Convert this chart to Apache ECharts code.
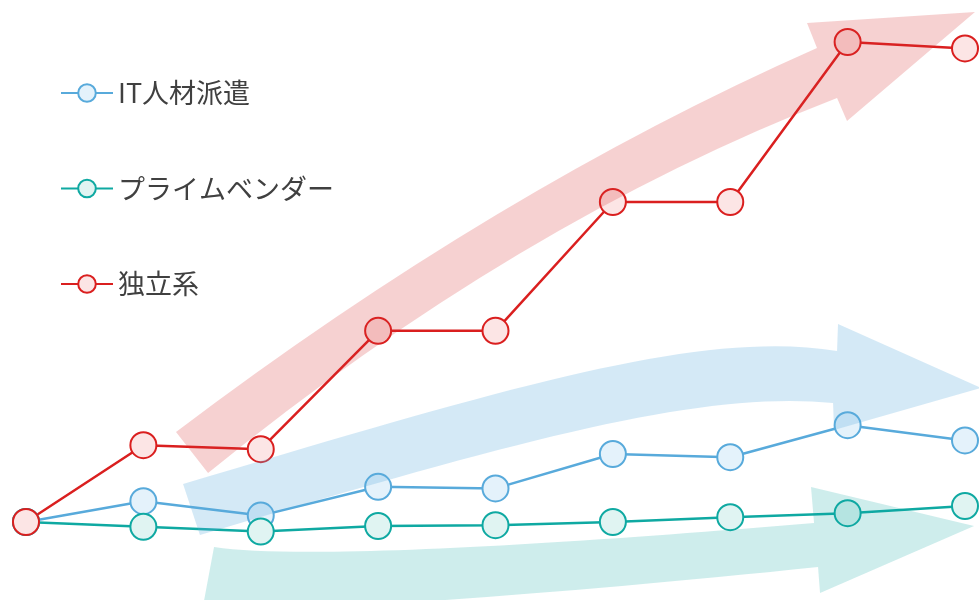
<!DOCTYPE html>
<html>
<head>
<meta charset="utf-8">
<script src="https://cdn.jsdelivr.net/npm/echarts@6/dist/echarts.min.js"></script>
<style>
  html, body { margin: 0; padding: 0; background: #ffffff; }
  #chart { width: 979px; height: 600px; }
</style>
</head>
<body>
<div id="chart"></div>
<script>
// Periods along the horizontal axis (not labelled on the chart)
const periods = ['T0', 'T1', 'T2', 'T3', 'T4', 'T5', 'T6', 'T7', 'T8'];

// Index values per segment (start = 100)
const itStaffing  = [100, 113, 104, 122, 121, 142.5, 140.5, 160.5, 151];
const primeVendor = [100, 97, 94, 97.5, 98, 100, 103, 105.5, 110];
const independent = [100, 148, 145.5, 219.5, 219.5, 300, 300, 400, 396];

const seriesNames = ['IT人材派遣', 'プライムベンダー', '独立系'];

// Translucent trend arrows laid over the lines, in axis units [period position, index value].
// top / bottom: bezier edges of the shaft (start, controls, end); head: back-top, tip, back-bottom.
const trendArrows = [
  { // 独立系
    fill: 'rgba(215,45,45,0.22)',
    top: [[1.278, 156.3], [4.0, 307.5], [6.739, 396.3]],
    head: [[6.654, 411.9], [8.085, 418.8], [6.995, 350.6]],
    bottom: [[6.910, 365.0], [4.170, 287.2], [1.551, 130.6]]
  },
  { // IT人材派遣
    fill: 'rgba(88,170,219,0.26)',
    top: [[1.338, 123.8], [4.038, 182.5], [5.742, 221.3], [6.910, 206.9]],
    head: [[6.918, 223.8], [8.136, 183.8], [6.884, 157.5]],
    bottom: [[6.876, 174.4], [5.742, 182.5], [4.209, 151.3], [1.482, 91.9]]
  },
  { // プライムベンダー
    fill: 'rgba(15,168,160,0.205)',
    top: [[1.602, 84.4], [2.334, 76.3], [4.464, 85.6], [6.714, 99.4]],
    head: [[6.688, 121.9], [8.077, 97.5], [6.765, 55.6]],
    bottom: [[6.748, 71.9], [4.464, 54.4], [2.334, 43.8], [1.499, 43.8]]
  }
];

const lineColors = ['#58AADB', '#0FA9A2', '#DA1F1F'];
const markerFills = ['#E4F2FB', '#E0F4F2', '#FCE5E5'];
const seriesValues = [itStaffing, primeVendor, independent];

function curveCmd(api, pts) {
  const p = pts.slice(1).map(function (q) { return api.coord(q).join(' '); });
  return (p.length === 2 ? ' Q ' : ' C ') + p.join(' ');
}

function renderArrow(params, api) {
  const a = trendArrows[params.dataIndex];
  const start = api.coord(a.top[0]);
  let d = 'M ' + start.join(' ') + curveCmd(api, a.top);
  a.head.forEach(function (q) { d += ' L ' + api.coord(q).join(' '); });
  d += ' L ' + api.coord(a.bottom[0]).join(' ') + curveCmd(api, a.bottom) + ' Z';
  return {
    type: 'path',
    shape: { pathData: d },
    style: { fill: a.fill, stroke: null }
  };
}

const lineSeries = seriesNames.map(function (name, i) {
  return {
    name: name,
    type: 'line',
    xAxisIndex: 0,
    yAxisIndex: 0,
    data: seriesValues[i],
    symbol: 'circle',
    symbolSize: 26,
    showAllSymbol: true,
    clip: false,
    z: 2,
    lineStyle: { color: lineColors[i], width: 2.5 },
    itemStyle: { color: markerFills[i], borderColor: lineColors[i], borderWidth: 2 },
    emphasis: { disabled: true }
  };
});

const chart = echarts.init(document.getElementById('chart'), null, { renderer: 'canvas' });
chart.setOption({
  animation: false,
  backgroundColor: '#ffffff',
  grid: { left: 26, right: 14, top: 10, bottom: 14 },
  xAxis: [
    { type: 'category', data: periods, boundaryGap: false, show: false },
    { type: 'value', min: 0, max: periods.length - 1, show: false }
  ],
  yAxis: { type: 'value', min: 60, max: 420, show: false },
  legend: {
    data: seriesNames,
    orient: 'vertical',
    left: 55,
    top: 73,
    itemWidth: 52,
    itemHeight: 22,
    itemGap: 65.5,
    textStyle: {
      fontFamily: '"Noto Sans CJK JP", "Noto Sans", sans-serif',
      fontSize: 27,
      lineHeight: 30,
      color: '#404040'
    }
  },
  series: lineSeries.concat([
    {
      type: 'custom',
      xAxisIndex: 1,
      yAxisIndex: 0,
      data: [[0, 100], [1, 100], [2, 100]],
      clip: false,
      silent: true,
      z: 5,
      renderItem: renderArrow
    }
  ])
});
</script>
</body>
</html>
